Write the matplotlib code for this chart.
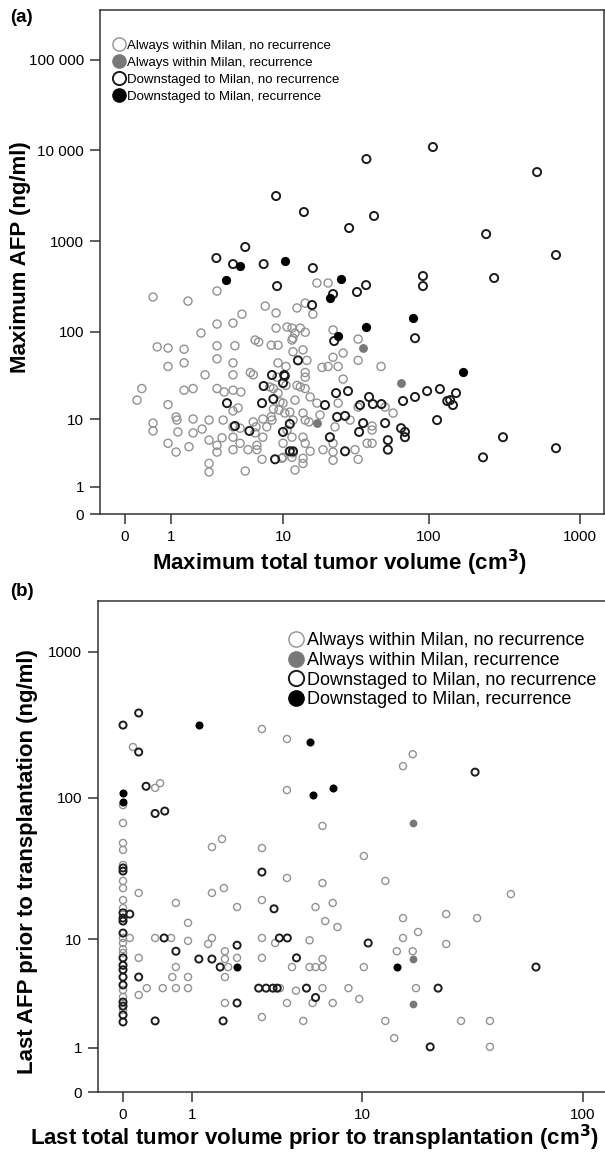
import numpy as np
import matplotlib
matplotlib.use("Agg")
import matplotlib.pyplot as plt
from matplotlib.lines import Line2D

plt.rcParams['font.family'] = ['Liberation Sans', 'DejaVu Sans']

# ---------------- panel (a): maximum volume vs maximum AFP ----------------
a_in_norec_x = [0.20, 0.29, 0.53, 0.53, 0.63, 0.92, 0.92, 0.92, 0.92, 1.17, 1.17, 1.2, 1.23,
                1.45, 1.45, 1.45, 1.64, 1.81, 1.81, 1.81, 2.22, 2.17, 2.37, 2.58, 2.58, 2.58,
                2.58, 3.04, 3.04, 3.04, 3.04, 3.04, 3.04, 3.36, 3.5, 4.15, 4.3, 4.15, 4.15,
                4.15, 4.56, 4.15, 4.15, 4.73, 4.8, 5.2, 5.47, 6.4, 6.4, 6.2, 6.6, 5.7, 6.0,
                7.0, 7.1, 6.3, 7.1, 7.6, 8.2, 9.2, 8.9, 9.2, 8.5, 10, 8.5, 8.2, 10, 10.7,
                11.6, 11.8, 12.2, 11.6, 10.7, 11.8, 0.53, 1.6, 3.04, 4.9, 7.4, 8.9, 12.6,
                12.2, 10.5, 6.0, 8.3, 9.35, 9.5, 9.2, 10.5, 8.0, 9.05, 10.3, 11.2, 11.8, 10,
                9.8, 4.73, 6.2, 4.15, 12.6, 12.2, 3.43, 4.15, 17.4, 20.8, 14.4, 16.3, 11.6,
                13.3, 14.4, 11.8, 13.9, 14.8, 22.5, 26.4, 18.9, 20.8, 24.4, 33.4, 33.4, 47.7,
                14.4, 14.4, 13.3, 14.4, 26.4, 15.6, 17.4, 24.4, 18.3, 13.9, 14.4, 15.3, 23.2,
                29.4, 41.5, 41.5, 33.4, 57.5, 50.8, 13.9, 14.4, 19.2, 22.5, 22.5, 22.5, 15.6,
                13.9, 13.9, 33.4, 38.4, 41.5, 11.6, 31.8, 22.5]
a_in_norec_y = [16.9, 23, 9.0, 7.2, 68, 66, 41, 15, 5.0, 3.8, 10.7, 9.8, 7.0,
                64, 45, 22, 4.5, 23, 10.1, 6.8, 7.6, 97, 33, 9.8, 5.5, 2.6,
                1.9, 122, 70, 50, 23, 4.7, 3.8, 5.9, 21, 125, 70, 45, 22,
                12.6, 13.7, 4.1, 6.0, 5.0, 21, 1.97, 4.1, 4.1, 4.7, 81, 77, 35, 33,
                3.0, 6.0, 8.1, 10.1, 8.1, 71, 71, 110, 45, 13.3, 15.6, 23, 10.7, 3.2, 113,
                81, 60, 2.05, 6.0, 7.4, 3.7, 243, 219, 283, 157, 193, 162, 184,
                97, 41, 9.3, 9.8, 12.9, 16.1, 20.4, 25, 24, 31, 11.9, 12.2, 9.8, 5.0,
                3.1, 7.8, 6.8, 8.1, 25, 16.9, 9.8, 33, 347, 347, 208, 157, 110,
                110, 99, 85, 63, 48, 52, 58, 40, 41, 41, 83, 48, 41,
                35, 31, 24, 23, 29.5, 18.4, 15.6, 15.6, 11.3, 11.9, 9.8, 9.3, 8.1,
                9.8, 8.3, 7.4, 14, 11.9, 14, 6.0, 5.0, 4.1, 5.0, 3.8, 2.9, 3.9,
                3.1, 2.6, 3.0, 5.0, 5.0, 3.2, 4.1, 105]

a_in_rec_x = [36, 65, 17.4]
a_in_rec_y = [66, 26.6, 9.0]

a_down_norec_x = [106, 38, 519, 8.9, 14.1, 42.8, 29, 239, 692, 5.2, 3.0, 4.15, 7.2, 9.05,
                  91, 91, 270, 16.3, 37.8, 32.8, 22.5, 16.1, 22.9, 80.6, 12.8, 10.3, 10,
                  23.6, 28.5, 39.6, 34.4, 42, 48, 19.8, 67, 80.6, 97, 118, 132, 138, 144,
                  151, 113, 24, 27.2, 36.1, 33.9, 50.8, 65, 69, 69, 21.4, 53, 53, 27.2,
                  11.2, 11.8, 10, 11.2, 228, 309, 692, 8.3, 10.2, 7.2, 8.5, 7.0, 3.7, 4.3,
                  5.6, 8.75]
a_down_norec_y = [10900, 8040, 5780, 3150, 2100, 1900, 1400, 1200, 706, 865, 654, 561, 561, 321,
                  414, 321, 394, 507, 329, 276, 262, 198, 79, 85, 48, 32, 26.6,
                  20.4, 21.5, 18.4, 14.8, 15.2, 15.2, 14.8, 16.5, 18.4, 21.5, 22.7, 16.5, 16.9, 14.8,
                  20.4, 9.8, 10.7, 11.0, 9.0, 7.0, 9.0, 7.8, 7.0, 6.0, 6.0, 5.5, 4.1, 3.9,
                  3.9, 3.9, 7.0, 8.8, 3.2, 6.0, 4.3, 32.8, 32.8, 24.6, 17.4, 15.6, 15.6, 8.3,
                  7.2, 3.0]

a_down_rec_x = [3.6, 4.7, 10.3, 25.5, 21.4, 37.8, 78, 168, 24.4]
a_down_rec_y = [374, 534, 606, 384, 237, 113, 142, 35.5, 90]

# ---------------- panel (b): last values before transplantation ----------------
b_in_norec_x = [3.03, 4.18, 0.105, 0.38, 0.45, 0, 4.18, 15.6, 17.3, 6.4, 10.2,
                0, 0, 0, 0, 0, 0, 0, 0, 0, 0, 0, 0, 0, 0, 0,
                0.17, 0.70, 1.44, 1.70, 1.44, 1.75, 2.14, 3.03, 3.03, 4.18, 6.4, 12.9, 48,
                5.9, 7.2, 6.6, 7.6, 5.5, 15.6, 15.6, 18.3, 24.6, 24.6, 33.9, 14.6, 17.3,
                4.45, 5.5, 5.9, 6.4, 6.4, 10.2, 3.83, 4.67, 6.4, 8.6, 17.9, 4.18, 5.7, 7.2,
                9.7, 5.1, 12.9, 28.7, 38.7, 14.2, 38.7, 0.07, 0.17, 0.17, 0.27, 0.38, 0.49,
                0.62, 0.70, 0.64, 0.70, 0.92, 0.92, 0.92, 0.92, 1.35, 1.44, 1.78, 1.78, 1.78,
                1.78, 1.87, 2.14, 3.03, 3.03, 3.03, 3.6]
b_in_norec_y = [296, 253, 223, 117, 126, 89, 113, 165, 199, 64, 39.5,
                67, 48.7, 43.6, 34.2, 26.4, 23.5, 19.3, 16.9, 10.2, 9.35, 8.4, 7.85, 3.95, 3.44, 2.62,
                21.7, 18.4, 45.7, 51.9, 21.7, 23.5, 17.2, 44.9, 19.3, 27.7, 25.5, 26.4, 21.3,
                17.2, 18.4, 13.6, 12.3, 9.8, 14.3, 10.2, 11.3, 15.3, 9.2, 14.3, 8.1, 8.1,
                6.1, 6.1, 6.1, 6.1, 7.05, 6.1, 4.1, 3.9, 4.1, 4.1, 4.1, 3.04, 3.04, 3.04,
                3.3, 2.05, 2.05, 2.05, 2.05, 1.33, 1.03, 10.2, 7.2, 3.58, 4.1, 10.2, 4.1,
                10.2, 6.1, 5.07, 4.1, 13.2, 9.7, 5.07, 4.1, 9.2, 10.2, 7.05, 5.07, 8.1,
                3.04, 6.1, 7.2, 10.2, 7.2, 2.24, 9.35]

b_in_rec_x = [17.3, 17.3, 17.3]
b_in_rec_y = [67, 7.05, 3.0]

b_down_norec_x = [0, 0.17, 0.17, 0.26, 0.38, 0.52, 3.03, 3.55, 33.2, 0.07, 0.17, 0.38, 0.51,
                  0.70, 1.14, 1.44, 1.65, 1.73, 2.14, 2.14, 2.9, 3.2, 3.5, 3.7, 3.8, 4.2, 4.7,
                  5.3, 5.9, 10.7, 22.6, 20.8, 62,
                  0, 0, 0, 0, 0, 0, 0, 0, 0, 0, 0, 0, 0, 0, 0]
b_down_norec_y = [315, 381, 206, 120, 78, 81, 30.5, 16.7, 150, 15.3, 5.07, 2.05, 10.2,
                  8.1, 7.05, 7.05, 6.1, 2.05, 9.0, 3.04, 4.1, 4.1, 4.1, 4.1, 10.2, 10.2, 7.2,
                  4.1, 3.4, 9.35, 4.1, 1.03, 6.1,
                  32.6, 31, 15.6, 14.3, 13.6, 11.1, 7.2, 6.3, 5.8, 5.07, 4.36, 3.1, 2.85, 2.35, 2.0]

b_down_rec_x = [1.14, 5.5, 5.7, 7.2, 0, 0, 2.14, 14.6]
b_down_rec_y = [315, 241, 104, 117, 108, 93.5, 6.1, 6.1]

labels = ['Always within Milan, no recurrence',
          'Always within Milan, recurrence',
          'Downstaged to Milan, no recurrence',
          'Downstaged to Milan, recurrence']

GREY_EDGE = '#929292'
GREY_FILL = '#787878'
DARK_EDGE = '#1c1c1c'


def fwd(v):
    return np.log10(np.asarray(v, dtype=float) + 1)


def inv(u):
    return 10 ** np.asarray(u, dtype=float) - 1


def dibujar(ax, grupos, s):
    (ix, iy), (rx, ry), (dx, dy), (fx, fy) = grupos
    ax.scatter(ix, iy, s=s, facecolors='none', edgecolors=GREY_EDGE, linewidths=1.0, zorder=2)
    ax.scatter(dx, dy, s=s, facecolors='none', edgecolors=DARK_EDGE, linewidths=1.4, zorder=3)
    ax.scatter(rx, ry, s=s * 1.2, color=GREY_FILL, linewidths=0, zorder=4)
    ax.scatter(fx, fy, s=s * 1.3, color='black', linewidths=0, zorder=5)


def estilo(ax, xt, xl, yt, yl, xlim, ylim, tfs):
    ax.set_xscale('function', functions=(fwd, inv))
    ax.set_yscale('function', functions=(fwd, inv))
    ax.set_xlim(*xlim)
    ax.set_ylim(*ylim)
    ax.set_xticks(xt)
    ax.set_xticklabels(xl, fontsize=tfs)
    ax.set_yticks(yt)
    ax.set_yticklabels(yl, fontsize=tfs)
    ax.minorticks_off()
    ax.tick_params(direction='out', length=7.5, width=1.1, color='#333333', pad=4)
    for sp in ax.spines.values():
        sp.set_linewidth(1.1)
        sp.set_color('#333333')


def leyenda(ms):
    return [
        Line2D([], [], ls='none', marker='o', ms=ms, mfc='none', mec=GREY_EDGE, mew=1.0),
        Line2D([], [], ls='none', marker='o', ms=ms, mfc=GREY_FILL, mec=GREY_FILL),
        Line2D([], [], ls='none', marker='o', ms=ms, mfc='none', mec=DARK_EDGE, mew=1.4),
        Line2D([], [], ls='none', marker='o', ms=ms, mfc='black', mec='black'),
    ]


fig = plt.figure(figsize=(6.05, 11.53), dpi=100)

# panel (a)
ax1 = fig.add_axes([100 / 605, 1 - 514 / 1153, 504 / 605, 504 / 1153])
dibujar(ax1, [(a_in_norec_x, a_in_norec_y), (a_in_rec_x, a_in_rec_y),
              (a_down_norec_x, a_down_norec_y), (a_down_rec_x, a_down_rec_y)], 34)
estilo(ax1, [0, 1, 10, 100, 1000], ['0', '1', '10', '100', '1000'],
       [0, 1, 10, 100, 1000, 10000, 100000],
       ['0', '1', '10', '100', '1000', '10 000', '100 000'],
       (-0.316, 1435), (0, 350800), 11)
ax1.set_xlabel('Maximum total tumor volume (cm$^\\mathbf{3}$)', fontsize=16, fontweight='bold')
ax1.set_ylabel('Maximum AFP (ng/ml)', fontsize=16, fontweight='bold')
ax1.xaxis.label.set_va('center')
ax1.yaxis.label.set_va('center')
ax1.xaxis.set_label_coords(0.475, -0.097)
ax1.yaxis.set_label_coords(-0.157, 0.51)
ax1.legend(leyenda(9.5), labels, loc='upper left', bbox_to_anchor=(0.008, 0.96),
           frameon=False, handlelength=0.9, handletextpad=0.15, labelspacing=0.36,
           borderaxespad=0.3, prop={'size': 9.5})

# panel (b)
ax2 = fig.add_axes([98 / 605, 1 - 1092 / 1153, 510 / 605, 491 / 1153])
dibujar(ax2, [(b_in_norec_x, b_in_norec_y), (b_in_rec_x, b_in_rec_y),
              (b_down_norec_x, b_down_norec_y), (b_down_rec_x, b_down_rec_y)], 26)
estilo(ax2, [0, 1, 10, 100], ['0', '1', '10', '100'],
       [0, 1, 10, 100, 1000], ['0', '1', '10', '100', '1000'],
       (-0.222, 128.8), (0, 2212), 11)
ax2.spines['right'].set_visible(False)
ax2.set_xlabel('Last total tumor volume prior to transplantation (cm$^\\mathbf{3}$)',
               fontsize=16, fontweight='bold')
ax2.set_ylabel('Last AFP prior to transplantation (ng/ml)', fontsize=16, fontweight='bold')
ax2.xaxis.label.set_va('center')
ax2.yaxis.label.set_va('center')
ax2.xaxis.set_label_coords(0.425, -0.094)
ax2.yaxis.set_label_coords(-0.139, 0.47)
ax2.legend(leyenda(11), labels, loc='upper left', bbox_to_anchor=(0.348, 0.962),
           frameon=False, handlelength=0.9, handletextpad=0.15, labelspacing=0.15,
           borderaxespad=0.3, prop={'size': 13})

fig.text(10 / 605, 1 - 18 / 1153, '(a)', fontsize=13.5, fontweight='bold', va='center')
fig.text(10 / 605, 1 - 592 / 1153, '(b)', fontsize=13.5, fontweight='bold', va='center')

fig.savefig('out.png', dpi=100)
